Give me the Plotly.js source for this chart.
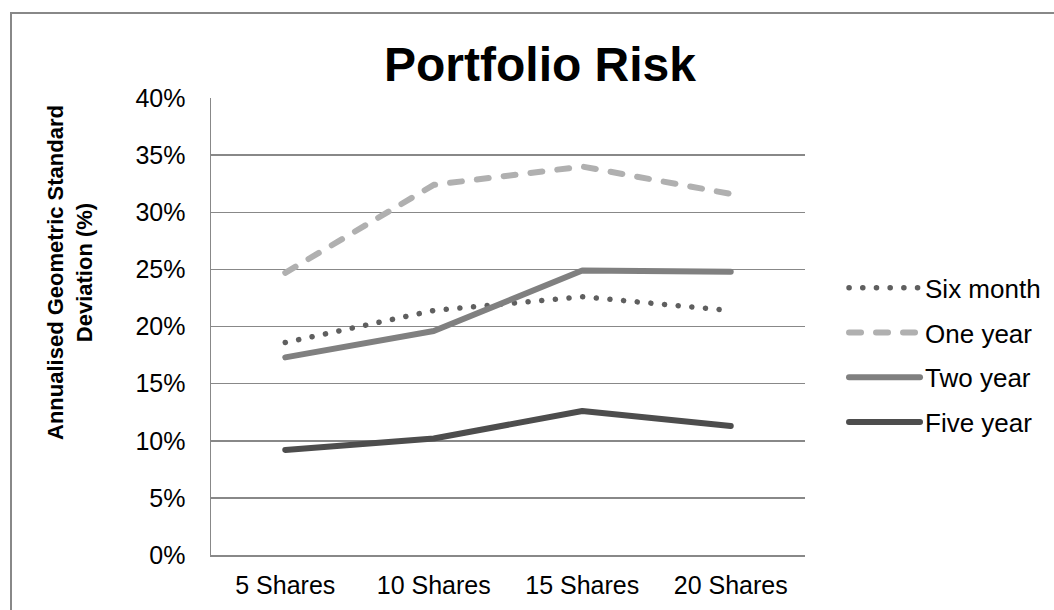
<!DOCTYPE html>
<html>
<head>
<meta charset="utf-8">
<script src="https://cdn.plot.ly/plotly-3.0.1.min.js"></script>
<style>
html,body{margin:0;padding:0;background:#fff;}
#chart{width:1054px;height:610px;}
.scatterlayer .js-line, .legend .js-line{stroke-linecap:round;stroke-linejoin:round;}
</style>
</head>
<body>
<div id="chart"></div>
<script>
var categories = ["5 Shares", "10 Shares", "15 Shares", "20 Shares"];
var sixMonth = [0.186, 0.214, 0.226, 0.214];
var oneYear = [0.247, 0.324, 0.340, 0.316];
var twoYear = [0.173, 0.196, 0.249, 0.248];
var fiveYear = [0.092, 0.102, 0.126, 0.113];
var yTicks = [0, 0.05, 0.10, 0.15, 0.20, 0.25, 0.30, 0.35, 0.40];
var yTickLabels = ["0%", "5%", "10%", "15%", "20%", "25%", "30%", "35%", "40%"];

var FONT = "Liberation Sans, Arial, sans-serif";

var traces = [
  {name: "Six month", y: sixMonth, color: "#5f5f5f", width: 5.5, dash: "0.1px,13.6px"},
  {name: "One year", y: oneYear, color: "#b0b0b0", width: 6, dash: "12px,15px"},
  {name: "Two year", y: twoYear, color: "#808080", width: 6, dash: "solid"},
  {name: "Five year", y: fiveYear, color: "#4d4d4d", width: 6, dash: "solid"}
].map(function (s, i) {
  return {
    type: "scatter", mode: "lines", name: s.name, x: categories, y: s.y,
    legendgroup: "g" + i,
    line: {color: s.color, width: s.width, dash: s.dash},
    hoverinfo: "skip"
  };
});

var layout = {
  width: 1054, height: 610,
  margin: {l: 211, r: 249, t: 98, b: 55, autoexpand: false},
  paper_bgcolor: "#ffffff", plot_bgcolor: "#ffffff",
  font: {family: FONT, color: "#000000", size: 25},
  title: {
    text: "<b>Portfolio Risk</b>",
    font: {family: FONT, size: 48, color: "#000000"},
    x: 540 / 1054, xanchor: "center", xref: "container",
    y: 1 - 64 / 610, yanchor: "middle", yref: "container"
  },
  showlegend: true,
  legend: {
    x: 1.0657, xanchor: "left", y: 0.437, yanchor: "middle",
    font: {family: FONT, size: 26, color: "#000000"},
    tracegroupgap: 8, itemwidth: 71, bgcolor: "rgba(0,0,0,0)"
  },
  xaxis: {
    type: "category", range: [-0.5, 3.5],
    showgrid: false, showline: true, linecolor: "#888888", linewidth: 1.5,
    ticks: "", tickfont: {family: FONT, size: 25, color: "#000000"},
    ticklabelstandoff: 7, zeroline: false, fixedrange: true
  },
  yaxis: {
    range: [0, 0.40], tickvals: yTicks, ticktext: yTickLabels,
    showgrid: true, gridcolor: "#888888", gridwidth: 1.5,
    showline: true, linecolor: "#888888", linewidth: 1.5,
    ticks: "", tickfont: {family: FONT, size: 25, color: "#000000"},
    ticklabelstandoff: 19, zeroline: false, fixedrange: true
  },
  annotations: [{
    text: "<b>Annualised Geometric Standard<br>Deviation (%)</b>",
    textangle: -90, showarrow: false,
    xref: "paper", yref: "paper",
    x: (70 - 211) / 594, y: (555 - 273) / 457,
    xanchor: "center", yanchor: "middle",
    font: {family: FONT, size: 22, color: "#000000"}
  }],
  shapes: [{
    type: "rect", xref: "paper", yref: "paper",
    x0: (11 - 211) / 594, x1: (1060 - 211) / 594,
    y0: (555 - 620) / 457, y1: (555 - 13) / 457,
    line: {color: "#888888", width: 2}, fillcolor: "rgba(0,0,0,0)", layer: "below"
  }]
};

Plotly.newPlot("chart", traces, layout, {displayModeBar: false, staticPlot: true});
</script>
</body>
</html>
